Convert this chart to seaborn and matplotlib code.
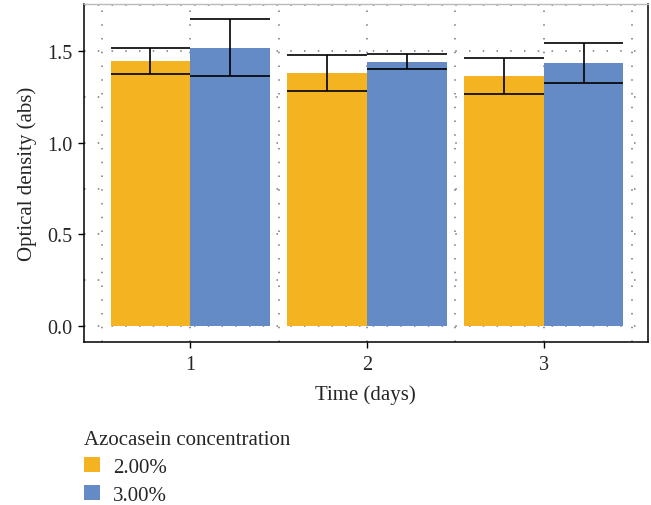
import matplotlib
matplotlib.use('Agg')
import matplotlib.pyplot as plt
import seaborn as sns
import pandas as pd
from matplotlib.ticker import MultipleLocator, FixedLocator
from matplotlib.patches import Patch

# ---- data ----
days = ['1', '2', '3']
conc = ['2.00%', '3.00%']
mean_2 = [1.448, 1.383, 1.366]
mean_3 = [1.519, 1.443, 1.437]
err_2 = [0.070, 0.098, 0.099]
err_3 = [0.154, 0.043, 0.110]
colors = ['#F4B321', '#658BC6']

sns.set_theme(style='white')
plt.rcParams['font.family'] = ['Liberation Serif', 'DejaVu Serif']

df = pd.DataFrame({
    'Time': days * 2,
    'Conc': [conc[0]] * len(days) + [conc[1]] * len(days),
    'OD': mean_2 + mean_3,
    'err': err_2 + err_3,
})

fig, ax = plt.subplots(figsize=(6.51, 5.06), dpi=100)
fig.subplots_adjust(left=0.129, right=0.995, top=0.990, bottom=0.322)

sns.barplot(data=df, x='Time', y='OD', hue='Conc', hue_order=conc,
            palette=colors, errorbar=None, width=0.9, saturation=1,
            ax=ax, zorder=2, legend=False, linewidth=0)

bars = list(ax.patches)
for p, m, e in zip(bars, df['OD'], df['err']):
    x0 = p.get_x()
    w = p.get_width()
    ax.vlines(x0 + w / 2, m - e, m + e, color='black', lw=1.2, zorder=3)
    ax.hlines([m - e, m + e], x0, x0 + w, color='black', lw=1.2, zorder=3)

ax.set_xlim(-0.6, 2.588)
ax.set_ylim(-0.087, 1.757)

ax.yaxis.set_major_locator(MultipleLocator(0.5))
ax.yaxis.set_minor_locator(MultipleLocator(0.25))
ax.xaxis.set_minor_locator(FixedLocator([-0.5, 0.5, 1.5, 2.5]))
ax.yaxis.set_major_formatter(matplotlib.ticker.FormatStrFormatter('%.1f'))
ax.set_axisbelow(True)
ax.grid(which='both', linestyle=(0, (1, 8)), color='#777777', lw=1.1)

ax.tick_params(which='major', length=4, width=1, color='black',
               left=True, bottom=True, labelsize=14.5, pad=4)
ax.tick_params(axis='x', which='major', pad=5)
ax.tick_params(which='minor', length=0)

for s in ['left', 'bottom', 'right']:
    ax.spines[s].set_color('black')
    ax.spines[s].set_linewidth(1.1)
ax.spines['top'].set_color('#bbbbbb')
ax.spines['top'].set_linewidth(1.0)

ax.set_xlabel('Time (days)', fontsize=15, labelpad=8)
ax.set_ylabel('Optical density (abs)', fontsize=15, labelpad=8)

handles = [Patch(facecolor=c, edgecolor='none', label=l) for c, l in zip(colors, conc)]
fig.legend(handles=handles, title='Azocasein concentration', loc='upper left',
           bbox_to_anchor=(84 / 651, 1 - 431 / 506), frameon=False,
           fontsize=15, title_fontsize=15, alignment='left',
           handlelength=0.75, handleheight=0.75, handletextpad=0.65,
           labelspacing=0.38, borderpad=0, borderaxespad=0)

fig.savefig('out.png', dpi=100)
